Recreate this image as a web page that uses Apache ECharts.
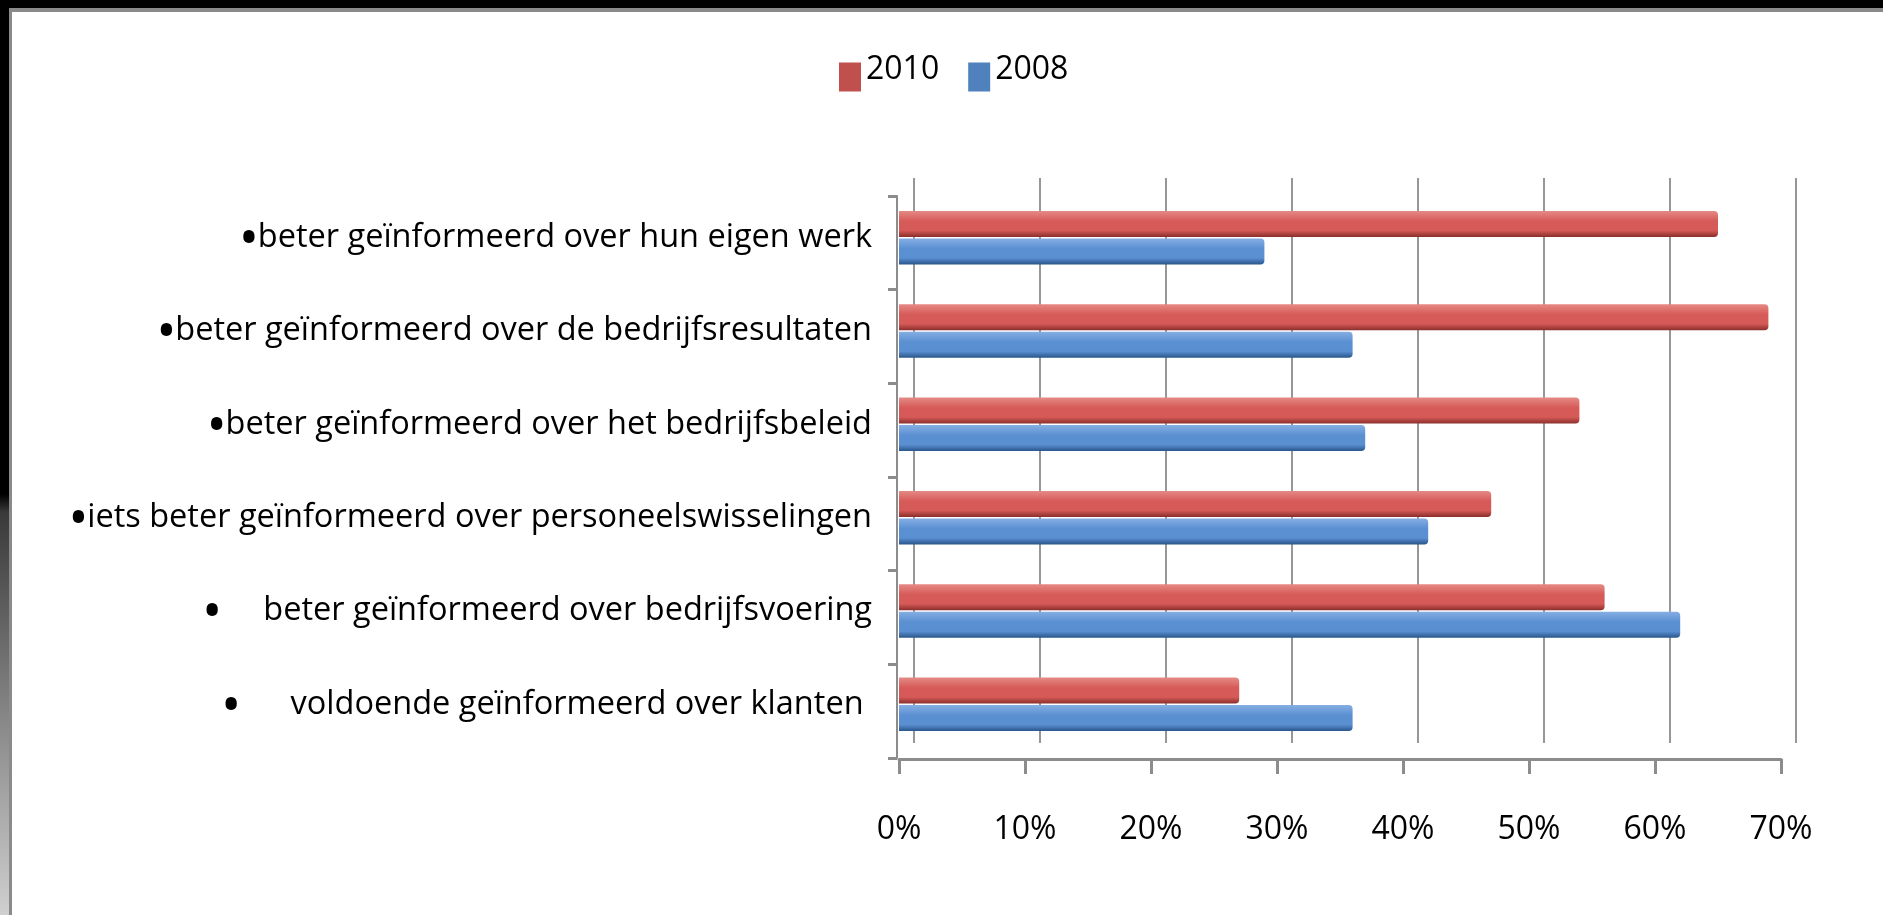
<!DOCTYPE html>
<html>
<head>
<meta charset="utf-8">
<title>Geïnformeerd 2010 vs 2008</title>
<script src="https://cdn.jsdelivr.net/npm/echarts@6/dist/echarts.min.js"></script>
<style>
  html, body {
    margin: 0;
    padding: 0;
    width: 1883px;
    height: 915px;
    overflow: hidden;
    background: linear-gradient(to bottom, #000 0%, #000 54%, #3a3a3a 56%, #d0d0d0 100%);
  }
  .paper {
    position: absolute;
    left: 9px;
    top: 8px;
    right: 0;
    bottom: 0;
    background: #fff;
    border-left: 3px solid #8a8a8a;
    border-top: 4px solid #8a8a8a;
  }
  #charts {
    position: absolute;
    left: 0;
    top: 0;
    width: 1883px;
    height: 915px;
  }
</style>
</head>
<body>
<div class="paper"></div>
<div id="charts"></div>
<script>
// categories top to bottom, as in the picture
let categories = [
  '•beter geïnformeerd over hun eigen werk',
  '•beter geïnformeerd over de bedrijfsresultaten',
  '•beter geïnformeerd over het bedrijfsbeleid',
  '•iets beter geïnformeerd over personeelswisselingen',
  '•     beter geïnformeerd over bedrijfsvoering',
  '•      voldoende geïnformeerd over klanten '
]
let values2010 = [65, 69, 54, 47, 56, 27]
let values2008 = [29, 36, 37, 42, 62, 36]
let tickValues = [0, 10, 20, 30, 40, 50, 60, 70]

let font = '"Open Sans", "Noto Sans", sans-serif'
let axisGray = '#8c8c8c'

function cylinder(light, mid, dark) {
  return new echarts.graphic.LinearGradient(0, 0, 0, 1, [
    {offset: 0, color: light},
    {offset: 0.4, color: mid},
    {offset: 0.75, color: mid},
    {offset: 1, color: dark}
  ])
}

let option = {
  animation: false,
  legend: {
    left: 834,
    top: 49,
    itemWidth: 22,
    itemHeight: 29,
    itemGap: 29,
    icon: 'rect',
    formatter: '{t|{name}}',
    textStyle: {
      fontFamily: font,
      fontSize: 32,
      color: '#000',
      rich: {
        t: {
          fontFamily: font,
          fontSize: 32,
          color: '#000',
          padding: [0, 0, 14, 0]
        }
      }
    },
    data: [
      {name: '2010', itemStyle: {color: '#c0504d'}},
      {name: '2008', itemStyle: {color: '#4f81bd'}}
    ]
  },
  grid: [
    // bars
    {left: 899, width: 882, top: 191, height: 560},
    // back wall gridlines (3D offset)
    {left: 914, width: 882, top: 178, height: 565},
    // left category axis line
    {left: 897, width: 1, top: 196, height: 562}
  ],
  xAxis: [
    {
      gridIndex: 0,
      type: 'value',
      min: 0,
      max: 70,
      interval: 10,
      offset: 8,
      axisLine: {show: true, lineStyle: {color: axisGray, width: 3}},
      axisTick: {show: true, length: 15, lineStyle: {color: axisGray, width: 3}},
      splitLine: {show: false},
      axisLabel: {
        margin: 55,
        fontFamily: font,
        fontSize: 32,
        color: '#000',
        formatter: function (v) {
          return tickValues.indexOf(v) > -1 ? v + '%' : ''
        }
      }
    },
    {
      gridIndex: 1,
      type: 'value',
      min: 0,
      max: 70,
      interval: 10,
      axisLine: {show: false},
      axisTick: {show: false},
      axisLabel: {show: false},
      splitLine: {show: true, lineStyle: {color: '#979797', width: 2}}
    },
    {
      gridIndex: 2,
      type: 'value',
      show: false
    }
  ],
  yAxis: [
    {
      gridIndex: 0,
      type: 'category',
      inverse: true,
      data: categories,
      axisLine: {show: false},
      axisTick: {show: false},
      axisLabel: {
        margin: 27,
        fontFamily: font,
        fontSize: 32,
        color: '#000',
        formatter: function (v) {
          return '{dot|•}{txt|' + v.slice(1) + '}'
        },
        rich: {
          dot: {
            fontFamily: font,
            fontSize: 54,
            lineHeight: 50,
            width: 19,
            align: 'left',
            color: '#000',
            verticalAlign: 'middle',
            padding: [8, 0, 0, 0]
          },
          txt: {
            fontFamily: font,
            fontSize: 32.5,
            lineHeight: 50,
            color: '#000',
            verticalAlign: 'middle'
          }
        }
      }
    },
    {
      gridIndex: 1,
      type: 'value',
      show: false
    },
    {
      gridIndex: 2,
      type: 'category',
      data: categories,
      axisLine: {show: true, lineStyle: {color: axisGray, width: 2}},
      axisTick: {show: true, length: 9, lineStyle: {color: axisGray, width: 3}},
      axisLabel: {show: false}
    }
  ],
  series: [
    {
      name: '2010',
      type: 'bar',
      xAxisIndex: 0,
      yAxisIndex: 0,
      data: values2010,
      barWidth: 26,
      barGap: '6%',
      itemStyle: {
        color: cylinder('#e58a86', '#d65a57', '#8a2f2c'),
        borderRadius: [0, 4, 4, 0]
      }
    },
    {
      name: '2008',
      type: 'bar',
      xAxisIndex: 0,
      yAxisIndex: 0,
      data: values2008,
      barWidth: 26,
      barGap: '6%',
      itemStyle: {
        color: cylinder('#85aee3', '#5a8fd2', '#29558a'),
        borderRadius: [0, 4, 4, 0]
      }
    }
  ]
}

let chartsInstance = echarts.init(document.getElementById('charts'))
chartsInstance.setOption(option)
</script>
</body>
</html>
